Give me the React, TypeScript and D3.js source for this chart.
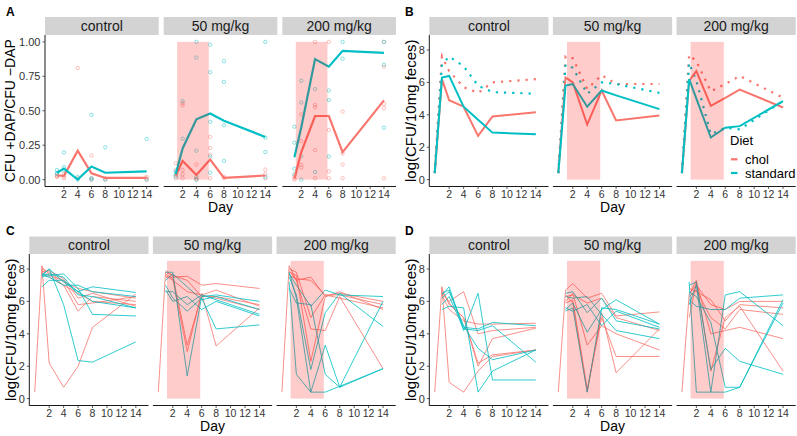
import React from "react";
import * as d3 from "d3";

const FONT = "'Liberation Sans', Arial, Helvetica, sans-serif";
const FACETS = ["control", "50 mg/kg", "200 mg/kg"];
const DAYS = [0, 1, 2, 4, 6, 8, 14];
const A_DAYS = [1, 2, 4, 6, 8, 14];
const X_TICKS = [2, 4, 6, 8, 10, 12, 14];
const X_DOMAIN = [0, 15];
const A_Y_TICKS = [0, 0.25, 0.5, 0.75, 1];
const A_Y_DOMAIN = [0, 1];
const LOG_Y_TICKS = [0, 2, 4, 6, 8];
const LOG_Y_DOMAIN = [0, 8.5];
const TREATMENT = [1.2, 5.8];
const DIETS = ["chol", "standard"];
const DIET_COLORS = ["#F8766D", "#00BFC4"];

// Panel A: ratio CFU +DAP / CFU -DAP (lines = per-day summary, points = mice)
const A_LINE_CHOL = [
  [0.03, 0.028, 0.21, 0.045, 0.012, 0.012],
  [0.027, 0.136, 0.034, 0.146, 0.012, 0.03],
  [0.007, 0.2, 0.462, 0.462, 0.2, 0.575],
];
const A_LINE_STD = [
  [0.05, 0.08, 0.0, 0.095, 0.05, 0.06],
  [0.04, 0.226, 0.438, 0.48, 0.428, 0.31],
  [0.163, 0.38, 0.875, 0.82, 0.935, 0.92],
];
const A_PTS_CHOL = [
  [[1,0.03],[1,0.025],[1,0.02],[2,0.02],[2,0.01],[2,0.04],[4,0.81],[4,0.01],[6,0.175],[6,0.0],[6,0.01],[8,0.01],[8,0.0],[14,0.02],[14,0.01],[14,0.0]],
  [[1,0.12],[1,0.07],[1,0.03],[1,0.01],[2,0.555],[2,0.54],[2,0.07],[2,0.04],[2,0.01],[4,0.11],[4,0.01],[4,0.0],[6,0.31],[6,0.23],[6,0.18],[6,0.01],[8,0.02],[8,0.01],[14,0.073],[14,0.04],[14,0.01]],
  [[1,0.03],[1,0.01],[1,0.0],[2,0.474],[2,0.28],[2,0.107],[2,0.088],[4,1.0],[4,0.543],[4,0.525],[4,0.214],[4,0.01],[6,1.0],[6,0.36],[6,0.06],[6,0.01],[8,0.494],[8,0.19],[8,0.11],[8,0.01],[14,1.0],[14,0.82],[14,0.55],[14,0.52],[14,0.01]],
];
const A_PTS_STD = [
  [[1,0.07],[1,0.05],[1,0.04],[2,0.197],[2,0.092],[2,0.07],[4,0.0],[4,0.02],[6,0.47],[6,0.01],[6,0.0],[8,0.235],[8,0.0],[14,0.295],[14,0.0]],
  [[1,0.06],[1,0.04],[1,0.02],[2,0.57],[2,0.297],[4,1.0],[4,0.886],[4,0.21],[4,0.02],[4,0.0],[6,0.98],[6,0.78],[6,0.42],[6,0.168],[6,0.05],[8,0.86],[8,0.71],[8,0.394],[8,0.136],[14,1.0],[14,0.304],[14,0.2],[14,0.02]],
  [[1,0.384],[1,0.268],[1,0.08],[1,0.04],[2,0.718],[2,0.56],[2,0.17],[2,0.0],[4,0.657],[4,0.056],[6,0.647],[6,0.577],[6,0.168],[8,1.0],[8,0.878],[14,1.0],[14,0.834],[14,0.377]],
];

// Panel B: summary lines (solid and dotted), values at DAYS
const B_SOLID_CHOL = [
  [0.4, 6.2, 4.9, 4.5, 2.7, 3.9, 4.15],
  [0.4, 6.3, 6.0, 3.4, 5.5, 3.65, 3.95],
  [0.4, 6.1, 6.7, 4.55, 5.05, 5.55, 4.45],
];
const B_SOLID_STD = [
  [0.4, 6.3, 6.4, 4.5, 3.7, 2.9, 2.8],
  [0.4, 5.8, 5.9, 4.5, 5.5, 5.2, 4.35],
  [0.4, 6.2, 5.0, 2.6, 3.2, 3.3, 4.85],
];
const B_DOTTED_CHOL = [
  [0.4, 7.6, 6.7, 5.7, 5.35, 6.0, 6.2],
  [0.4, 7.6, 7.5, 5.6, 6.45, 5.9, 5.9],
  [0.4, 7.7, 7.3, 5.45, 5.9, 6.4, 5.05],
];
const B_DOTTED_STD = [
  [0.4, 7.1, 7.6, 7.0, 5.8, 5.4, 5.3],
  [0.4, 7.1, 6.9, 5.3, 6.0, 5.9, 5.35],
  [0.4, 7.2, 6.1, 2.8, 3.2, 3.1, 4.85],
];

// Panel C: individual mice, values at DAYS
const C_CHOL = [
  [
    [0.4, 8.2, 2.2, 0.7, 2.0, 4.4, 6.45],
    [null, 8.1, 7.7, 7.0, 5.4, 6.3, 6.0],
    [null, 7.9, 7.6, 7.3, 5.8, 5.9, 6.3],
    [null, 8.0, 7.8, 7.2, 6.8, 6.6, 6.2],
    [null, 7.7, 7.5, 7.0, 6.5, 6.0, 5.8],
    [null, 7.8, 7.9, 7.4, 6.2, 6.5, 5.7],
  ],
  [
    [0.4, 7.8, 7.6, 3.3, 6.4, 6.7, 5.7],
    [null, 7.7, 7.4, 2.9, 6.5, 3.25, 5.6],
    [null, 7.5, 7.5, 7.55, 7.0, 7.1, 6.8],
    [null, 7.9, 7.6, 7.3, 6.3, 6.3, 5.8],
    [null, 7.6, 7.3, 6.6, 6.4, 6.2, 5.5],
  ],
  [
    [0.4, 8.2, 7.3, 7.5, 6.3, 6.5, 6.0],
    [null, 8.0, 7.8, 5.0, 6.4, 6.4, 5.8],
    [null, 7.8, 7.6, 2.3, 6.3, 6.6, 5.5],
    [null, 7.9, 7.3, 4.3, 4.2, 6.3, 1.85],
    [null, 7.6, 7.4, 7.3, 6.4, 6.2, 5.6],
  ],
];
const C_STD = [
  [
    [null, 7.6, 8.0, 5.8, 2.35, 2.25, 3.5],
    [null, 6.9, 7.3, 7.3, 6.6, 6.9, 6.55],
    [null, 7.7, 7.6, 7.7, 6.8, 5.2, 5.1],
    [null, 7.6, 8.0, 7.2, 6.6, 6.0, 5.6],
    [null, 7.5, 7.7, 7.5, 6.4, 6.3, 5.6],
    [null, 7.6, 7.5, 7.0, 7.0, 6.6, 6.3],
  ],
  [
    [null, 7.8, 7.8, 1.4, 6.3, 6.4, 6.0],
    [null, 6.7, 6.0, 6.3, 5.5, 6.0, 5.1],
    [null, 7.0, 6.2, 5.4, 6.2, 4.3, 4.55],
    [null, 7.3, 7.7, 6.9, 6.1, 6.3, 5.5],
    [null, 6.6, 6.6, 5.8, 6.4, 6.1, 5.2],
  ],
  [
    [null, 7.7, 7.0, 5.7, 6.7, 6.4, 6.3],
    [null, 7.5, 6.4, 1.8, 5.3, 6.5, 4.45],
    [null, 7.8, 6.2, 0.4, 3.3, 0.7, 1.85],
    [null, 7.2, 1.5, 0.4, 0.4, null, 1.85],
    [null, 6.8, 5.9, 5.8, 1.5, 0.7, 6.0],
  ],
];

// Panel D: individual mice, values at DAYS
const D_CHOL = [
  [
    [0.4, 6.9, 1.0, 0.4, 1.7, 2.6, 3.0],
    [null, 6.5, 6.0, 6.6, 4.0, 4.2, 4.4],
    [null, 6.8, 5.8, 5.0, 2.0, 3.7, 4.35],
    [null, 6.4, 5.5, 4.8, 4.6, 4.6, 4.65],
    [null, 6.6, 5.9, 5.0, 2.2, 2.7, 3.0],
  ],
  [
    [0.4, 6.7, 7.1, 6.2, 6.5, 5.1, 5.35],
    [null, 6.4, 5.9, 0.4, 5.3, 1.6, 4.3],
    [null, 6.0, 6.5, 3.3, 4.5, 4.0, 3.0],
    [null, 6.3, 6.4, 5.9, 6.2, 5.0, 4.2],
    [null, 5.9, 6.1, 0.6, 5.0, 2.6, 2.6],
  ],
  [
    [0.4, 6.4, 7.3, 1.7, 5.0, 5.7, 1.7],
    [null, 6.8, 6.6, 6.1, 4.8, 5.8, 5.6],
    [null, 5.0, 7.2, 4.0, 4.2, 4.4, 3.7],
    [null, 6.5, 7.0, 5.8, 5.5, 6.0, 6.0],
    [null, 6.3, 6.7, 5.0, 4.3, 5.5, 5.2],
  ],
];
const D_STD = [
  [
    [null, 5.5, 5.7, 5.6, 0.4, 1.7, 3.0],
    [null, 6.4, 6.9, 4.2, 6.5, 1.15, 1.15],
    [null, 6.2, 6.6, 4.5, 3.1, 2.4, 3.0],
    [null, 6.5, 6.7, 4.4, 4.3, 4.7, 4.5],
    [null, 5.8, 6.3, 4.3, 4.2, 4.5, 2.25],
  ],
  [
    [null, 5.4, 5.6, 0.4, 5.6, 5.5, 4.6],
    [null, 6.5, 6.6, 5.3, 6.2, 4.8, 4.3],
    [null, 5.5, 5.9, 4.1, 5.5, 6.1, 4.6],
    [null, 6.3, 6.2, 6.3, 5.2, 4.2, 3.7],
    [null, 5.6, 5.4, 5.8, 4.5, 5.4, 4.4],
  ],
  [
    [null, 7.2, 0.4, 0.4, 0.4, 0.7, 5.9],
    [null, 7.0, 7.2, 1.8, 3.1, 2.3, 1.5],
    [null, 5.8, 7.0, 0.4, 6.4, 6.6, 4.5],
    [null, 6.1, 5.7, 5.5, 5.5, 6.2, 6.4],
    [null, 6.6, 6.3, 4.7, 0.7, 0.7, 6.1],
  ],
];

const expand = (dom: number[], m = 0.05) => {
  const r = dom[1] - dom[0];
  return [dom[0] - r * m, dom[1] + r * m];
};

type Sc = d3.ScaleLinear<number, number>;

function pathFor(days: number[], vals: (number | null)[], x: Sc, y: Sc) {
  const pts = days
    .map((d, i) => [d, vals[i]] as [number, number | null])
    .filter((p) => p[1] !== null) as [number, number][];
  return d3.line<[number, number]>().x((p) => x(p[0])).y((p) => y(p[1]))(pts) || "";
}

function TreatRect({ x, y, top }: { x: Sc; y: Sc; top: number }) {
  return (
    <rect
      x={x(TREATMENT[0])}
      width={x(TREATMENT[1]) - x(TREATMENT[0])}
      y={y(top)}
      height={y(0) - y(top)}
      fill="#FF0000"
      fillOpacity={0.2}
    />
  );
}

interface RowProps {
  left: number;
  right: number;
  top: number;
  bottom: number;
  stripTop: number;
  gap: number;
  yDomain: number[];
  yTicks: number[];
  yFmt: (v: number) => string;
  yTitle: string;
  yTitleX: number;
  yTitleSize: number;
  letter: string;
  letterX: number;
  letterY: number;
  renderPanel: (i: number, x: Sc, y: Sc) => React.ReactNode;
}

function Row(p: RowProps) {
  const w = (p.right - p.left - 2 * p.gap) / 3;
  const y = d3.scaleLinear().domain(expand(p.yDomain)).range([p.bottom, p.top]);
  return (
    <g>
      <text x={p.letterX} y={p.letterY} fontWeight="bold" fontSize={12} fill="#000">
        {p.letter}
      </text>
      {FACETS.map((f, i) => {
        const x0 = p.left + i * (w + p.gap);
        const x1 = x0 + w;
        const x = d3.scaleLinear().domain(expand(X_DOMAIN)).range([x0, x1]);
        return (
          <g key={f}>
            <rect x={x0} y={p.stripTop} width={w} height={p.top - p.stripTop} fill="#D3D3D3" />
            <text
              x={(x0 + x1) / 2}
              y={(p.stripTop + p.top) / 2}
              dy="0.36em"
              textAnchor="middle"
              fontSize={14}
              fill="#1A1A1A"
            >
              {f}
            </text>
            <g>{p.renderPanel(i, x, y)}</g>
            <line x1={x0} x2={x1} y1={p.bottom} y2={p.bottom} stroke="#000" strokeWidth={0.9} />
            {X_TICKS.map((t) => (
              <g key={t}>
                <line x1={x(t)} x2={x(t)} y1={p.bottom} y2={p.bottom + 2.5} stroke="#333" strokeWidth={0.8} />
                <text x={x(t)} y={p.bottom + 11.5} textAnchor="middle" fontSize={10.5} fill="#333">
                  {t}
                </text>
              </g>
            ))}
          </g>
        );
      })}
      <line x1={p.left} x2={p.left} y1={p.top} y2={p.bottom} stroke="#000" strokeWidth={0.9} />
      {p.yTicks.map((t) => (
        <g key={t}>
          <line x1={p.left - 2.5} x2={p.left} y1={y(t)} y2={y(t)} stroke="#333" strokeWidth={0.8} />
          <text x={p.left - 4.5} y={y(t)} dy="0.36em" textAnchor="end" fontSize={11} fill="#333">
            {p.yFmt(t)}
          </text>
        </g>
      ))}
      <text
        transform={`translate(${p.yTitleX},${(p.top + p.bottom) / 2}) rotate(-90)`}
        dy="0.36em"
        textAnchor="middle"
        fontSize={p.yTitleSize}
        fill="#000"
      >
        {p.yTitle}
      </text>
      <text x={(p.left + p.right) / 2} y={p.bottom + 25.5} textAnchor="middle" fontSize={14} fill="#000">
        Day
      </text>
    </g>
  );
}

function IndividualPanel(chol: (number | null)[][][], std: (number | null)[][][]) {
  return (i: number, x: Sc, y: Sc) => (
    <g>
      {chol[i].map((m, k) => (
        <path key={"c" + k} d={pathFor(DAYS, m, x, y)} fill="none" stroke={DIET_COLORS[0]} strokeWidth={0.9} strokeOpacity={0.9} />
      ))}
      {std[i].map((m, k) => (
        <path key={"s" + k} d={pathFor(DAYS, m, x, y)} fill="none" stroke={DIET_COLORS[1]} strokeWidth={0.9} strokeOpacity={0.9} />
      ))}
      {i > 0 && <TreatRect x={x} y={y} top={LOG_Y_DOMAIN[1]} />}
    </g>
  );
}

export default function App() {
  const panelA = (i: number, x: Sc, y: Sc) => (
    <g>
      {[A_PTS_CHOL, A_PTS_STD].map((set, di) =>
        set[i].map((pt, k) => (
          <circle
            key={di + "-" + k}
            cx={x(pt[0])}
            cy={y(pt[1])}
            r={1.7}
            fill="none"
            stroke={DIET_COLORS[di]}
            strokeOpacity={0.75}
            strokeWidth={0.6}
          />
        ))
      )}
      <path d={pathFor(A_DAYS, A_LINE_CHOL[i], x, y)} fill="none" stroke={DIET_COLORS[0]} strokeWidth={2.2} />
      <path d={pathFor(A_DAYS, A_LINE_STD[i], x, y)} fill="none" stroke={DIET_COLORS[1]} strokeWidth={2.2} />
      {i > 0 && <TreatRect x={x} y={y} top={A_Y_DOMAIN[1]} />}
    </g>
  );

  const panelB = (i: number, x: Sc, y: Sc) => (
    <g>
      <path d={pathFor(DAYS, B_DOTTED_CHOL[i], x, y)} fill="none" stroke={DIET_COLORS[0]} strokeWidth={2.2} strokeDasharray="2.2 6" />
      <path d={pathFor(DAYS, B_DOTTED_STD[i], x, y)} fill="none" stroke={DIET_COLORS[1]} strokeWidth={2.2} strokeDasharray="2.2 6" />
      <path d={pathFor(DAYS, B_SOLID_CHOL[i], x, y)} fill="none" stroke={DIET_COLORS[0]} strokeWidth={2} />
      <path d={pathFor(DAYS, B_SOLID_STD[i], x, y)} fill="none" stroke={DIET_COLORS[1]} strokeWidth={2} />
      {i > 0 && <TreatRect x={x} y={y} top={LOG_Y_DOMAIN[1]} />}
    </g>
  );

  const logTitle = "log(CFU/10mg feces)";

  return (
    <svg
      width={797}
      height={436}
      style={{ position: "absolute", left: 0, top: 0, background: "#fff" }}
      fontFamily={FONT}
    >
      <rect x={0} y={0} width={797} height={436} fill="#fff" />
      <Row
        left={45} right={396} top={35} bottom={186.5} stripTop={17} gap={5}
        yDomain={A_Y_DOMAIN} yTicks={A_Y_TICKS} yFmt={(v) => v.toFixed(2)}
        yTitle="CFU +DAP/CFU −DAP" yTitleX={10} yTitleSize={14}
        letter="A" letterX={6} letterY={16}
        renderPanel={panelA}
      />
      <Row
        left={429.3} right={795.7} top={35} bottom={186.5} stripTop={17} gap={4.4}
        yDomain={LOG_Y_DOMAIN} yTicks={LOG_Y_TICKS} yFmt={(v) => String(v)}
        yTitle={logTitle} yTitleX={411} yTitleSize={15}
        letter="B" letterX={405} letterY={16}
        renderPanel={panelB}
      />
      <Row
        left={29.3} right={395.7} top={254} bottom={405.5} stripTop={236.5} gap={4.4}
        yDomain={LOG_Y_DOMAIN} yTicks={LOG_Y_TICKS} yFmt={(v) => String(v)}
        yTitle={logTitle} yTitleX={11} yTitleSize={15}
        letter="C" letterX={6} letterY={235}
        renderPanel={IndividualPanel(C_CHOL, C_STD)}
      />
      <Row
        left={429.3} right={795.7} top={254} bottom={405.5} stripTop={236.5} gap={4.4}
        yDomain={LOG_Y_DOMAIN} yTicks={LOG_Y_TICKS} yFmt={(v) => String(v)}
        yTitle={logTitle} yTitleX={411} yTitleSize={15}
        letter="D" letterX={405} letterY={235}
        renderPanel={IndividualPanel(D_CHOL, D_STD)}
      />
      <g>
        <text x={730} y={145} fontSize={13} fill="#000">Diet</text>
        {DIETS.map((d, i) => (
          <g key={d}>
            <line x1={731} x2={737.5} y1={159.3 + i * 13.7} y2={159.3 + i * 13.7} stroke={DIET_COLORS[i]} strokeWidth={2.2} />
            <text x={745} y={159.3 + i * 13.7} dy="0.36em" fontSize={13} fill="#000">{d}</text>
          </g>
        ))}
      </g>
    </svg>
  );
}
